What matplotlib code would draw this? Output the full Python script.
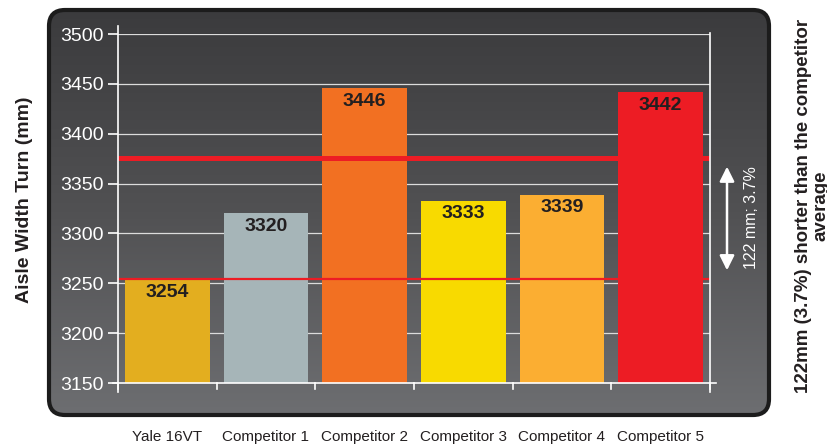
import numpy as np
import matplotlib
matplotlib.use('Agg')
import matplotlib.pyplot as plt
from matplotlib.patches import FancyBboxPatch
from matplotlib.colors import LinearSegmentedColormap

plt.rcParams['font.family'] = ['Liberation Sans', 'DejaVu Sans']

# --- Data ---
categories = ['Yale 16VT', 'Competitor 1', 'Competitor 2', 'Competitor 3', 'Competitor 4', 'Competitor 5']
values = [3254, 3320, 3446, 3333, 3339, 3442]
bar_colors = ['#E3AE1F', '#A6B5B8', '#F27022', '#F8DA00', '#FBAE32', '#ED1C24']
yale_value = values[0]
competitor_avg = np.mean(values[1:])
yticks = [3150, 3200, 3250, 3300, 3350, 3400, 3450, 3500]
diff_label = '122 mm; 3.7%'
side_note = '122mm (3.7%) shorter than the competitor\naverage'

W, H = 828, 444
fig = plt.figure(figsize=(W / 100, H / 100), dpi=100)

# --- Background panel with gradient ---
bg = fig.add_axes([0, 0, 1, 1])
bg.set_xlim(0, W)
bg.set_ylim(H, 0)
bg.axis('off')
px0, py0, px1, py1 = 49, 10, 769, 415
panel = FancyBboxPatch((px0, py0), px1 - px0, py1 - py0,
                       boxstyle='round,pad=0,rounding_size=16',
                       facecolor='none', edgecolor='#1c1c1c', linewidth=3, zorder=3)
bg.add_patch(panel)
grad = np.linspace(0, 1, 256).reshape(-1, 1)
cmap = LinearSegmentedColormap.from_list('panel', ['#3b3b3d', '#515153', '#6d6e71'])
im = bg.imshow(grad, cmap=cmap, extent=(px0, px1, py1, py0), aspect='auto', zorder=1)
im.set_clip_path(panel)

# --- Main axes ---
ax = fig.add_axes([118 / W, 61 / H, (710 - 118) / W, (410 - 61) / H])
ax.patch.set_alpha(0)
x = np.arange(len(categories))
ax.set_xlim(-0.5, len(categories) - 0.5)
ax.set_ylim(3150, 3500)

for yv in yticks[1:]:
    ax.axhline(yv, color='#dcdcdc', lw=0.9, zorder=1)

ax.bar(x, np.array(values) - 3150, bottom=3150, width=0.855, color=bar_colors, zorder=2)

for xi, v in zip(x, values):
    ax.annotate(str(v), (xi, v), xytext=(0, -9.5), textcoords='offset points',
                ha='center', va='center', fontsize=14, fontweight='bold', color='#231f20', zorder=5)

ax.axhline(competitor_avg, color='#ED1C24', lw=3.6, zorder=4)
ax.axhline(yale_value, color='#ED1C24', lw=1.6, zorder=4)

# axes lines
for s in ax.spines.values():
    s.set_visible(False)
ax.plot([-0.5, -0.5], [3141, 3508], color='white', lw=1.2, clip_on=False, zorder=6)
ax.plot([5.5, 5.5], [3141, 3501], color='white', lw=1.2, clip_on=False, zorder=6)
ax.plot([-0.55, 5.56], [3150, 3150], color='white', lw=1.2, clip_on=False, zorder=6)
for b in np.arange(-0.5, len(categories), 1.0):
    ax.plot([b, b], [3150, 3144], color='white', lw=1.2, clip_on=False, zorder=6)

ax.set_yticks(yticks)
ax.set_yticklabels([str(t) for t in yticks], fontsize=14, color='white')
ax.tick_params(axis='y', length=7, width=1.2, color='white', pad=3)
ax.set_xticks(x)
ax.set_xticklabels(categories, fontsize=11, color='#231f20')
ax.tick_params(axis='x', length=0, pad=34)

fig.text(25 / W, 1 - 200 / H, 'Aisle Width Turn (mm)', rotation=90, ha='center', va='center',
         fontsize=14, fontweight='bold', color='#231f20')

# difference arrow and label
ax.annotate('', xy=(727 / W, competitor_avg - 9), xytext=(727 / W, yale_value + 9),
            xycoords=('figure fraction', 'data'),
            arrowprops=dict(arrowstyle='<|-|>', color='white', lw=1.8, mutation_scale=22,
                            shrinkA=0, shrinkB=0),
            annotation_clip=False)
fig.text(752 / W, 1 - 218 / H, diff_label, rotation=90, ha='center', va='center',
         fontsize=11.5, color='white')

fig.text(812 / W, 1 - 206 / H, side_note, rotation=90, ha='center', va='center',
         multialignment='center', fontsize=13.5, fontweight='bold', color='#231f20', linespacing=1.05)

fig.savefig('out.png', dpi=100)
